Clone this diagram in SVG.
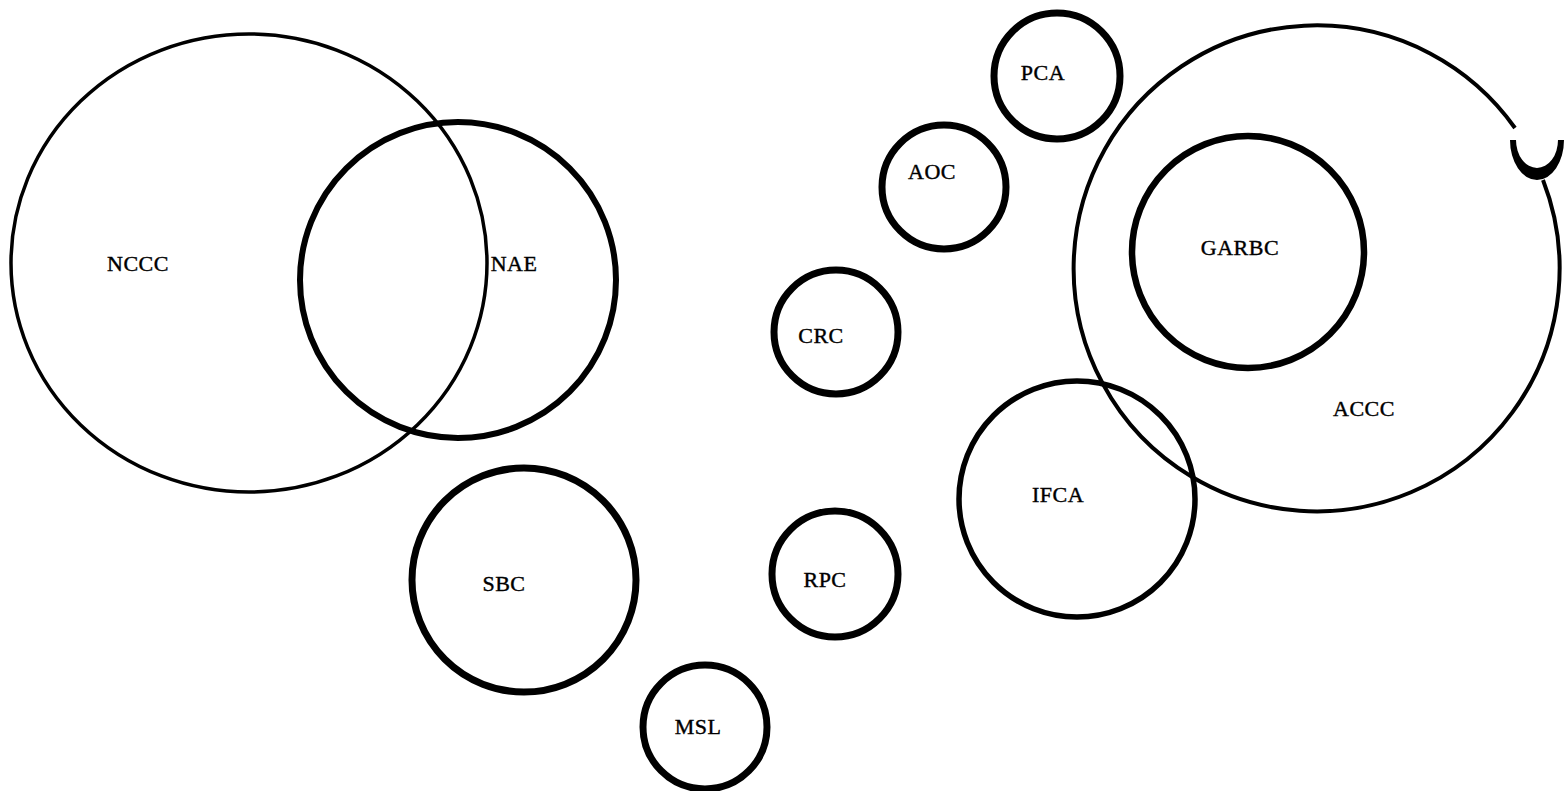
<svg xmlns="http://www.w3.org/2000/svg" width="1565" height="791" viewBox="0 0 1565 791">
<style>
.c{fill:none;stroke:#000}
.t{font-family:"Liberation Serif","DejaVu Serif",serif;font-size:22px;fill:#000;text-anchor:middle;letter-spacing:0.5px;stroke:#000;stroke-width:0.4px}
</style>
<rect width="1565" height="791" fill="#fff"/>
<g id="NCCC"><ellipse class="c" cx="249" cy="263" rx="238" ry="229" stroke-width="3.5"/><text class="t" x="138" y="271">NCCC</text></g>
<g id="NAE"><circle class="c" cx="458" cy="280" r="158" stroke-width="6"/><text class="t" x="514" y="271">NAE</text></g>
<g id="SBC"><circle class="c" cx="524" cy="580" r="112" stroke-width="7"/><text class="t" x="504" y="591">SBC</text></g>
<g id="MSL"><circle class="c" cx="705" cy="727" r="62" stroke-width="7"/><text class="t" x="698" y="734">MSL</text></g>
<g id="CRC"><circle class="c" cx="836" cy="332" r="62" stroke-width="7"/><text class="t" x="821" y="343">CRC</text></g>
<g id="RPC"><circle class="c" cx="835" cy="574" r="63" stroke-width="7"/><text class="t" x="825" y="587">RPC</text></g>
<g id="AOC"><circle class="c" cx="944" cy="187" r="62" stroke-width="7"/><text class="t" x="932" y="179">AOC</text></g>
<g id="PCA"><circle class="c" cx="1057" cy="76" r="63" stroke-width="7"/><text class="t" x="1043" y="80">PCA</text></g>
<g id="ACCC">
<path class="c" d="M1515,128 A243,243 0 1 0 1543,180" stroke-width="4"/>
<path d="M1510,140 A27,40 0 0 0 1564,140 L1558,140 A21,28 0 0 1 1516,140 Z" fill="#000"/>
<text class="t" x="1364" y="416">ACCC</text></g>
<g id="GARBC"><circle class="c" cx="1248" cy="252" r="116" stroke-width="6.5"/><text class="t" x="1240" y="255">GARBC</text></g>
<g id="IFCA"><circle class="c" cx="1077" cy="499" r="118" stroke-width="5.5"/><text class="t" x="1058" y="502">IFCA</text></g>
<g id="connectors"></g>
</svg>
